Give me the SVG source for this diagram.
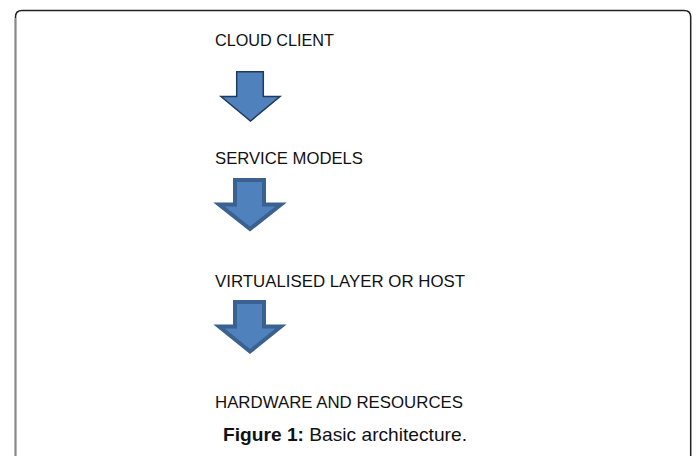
<svg xmlns="http://www.w3.org/2000/svg" width="697" height="456" viewBox="0 0 697 456">
<style>
.lbl{font-family:"Liberation Sans",Arial,sans-serif;font-size:16.5px;fill:#111}
.cap{font-family:"Liberation Sans",Arial,sans-serif;font-size:19px;fill:#111}
.arr{fill:#4F81BD;stroke:#3A6190;stroke-width:4;stroke-linejoin:miter}
.arr1{fill:#4F81BD;stroke:#1F3A5F;stroke-width:1.5;stroke-linejoin:miter}
</style>
<rect width="697" height="456" fill="#fff"/>
<g id="frame">
<path d="M15.5,470 V17 Q15.5,10.5 22,10.5 H684 Q690.7,10.5 690.7,17 V470" fill="none" stroke="#222" stroke-width="1.5"/>
<line x1="15.5" y1="18" x2="15.5" y2="456" stroke="#888" stroke-width="1.5"/>
</g>
<g id="node-cloud-client"><text class="lbl" x="215" y="46" textLength="119" lengthAdjust="spacingAndGlyphs">CLOUD CLIENT</text></g>
<g id="node-service-models"><text class="lbl" x="215" y="164" textLength="148" lengthAdjust="spacingAndGlyphs">SERVICE MODELS</text></g>
<g id="node-virtualised"><text class="lbl" x="215" y="286.7" textLength="250" lengthAdjust="spacingAndGlyphs">VIRTUALISED LAYER OR HOST</text></g>
<g id="node-hardware"><text class="lbl" x="215" y="408" textLength="248" lengthAdjust="spacingAndGlyphs">HARDWARE AND RESOURCES</text></g>
<g id="connectors">
<path class="arr1" d="M236.7,71.7 H263.3 V96.5 H280 L250.5,121 L221,96.5 H236.7 Z"/>
<path class="arr" d="M235,180 H264 V204.5 H281 L250,229 L219,204.5 H235 Z"/>
<path class="arr" d="M235,302 H264 V326.5 H281 L250,351.5 L219,326.5 H235 Z"/>
</g>
<g id="caption"><text class="cap" x="223" y="440.7" textLength="244" lengthAdjust="spacingAndGlyphs"><tspan font-weight="bold">Figure 1:</tspan> Basic architecture.</text></g>
</svg>
